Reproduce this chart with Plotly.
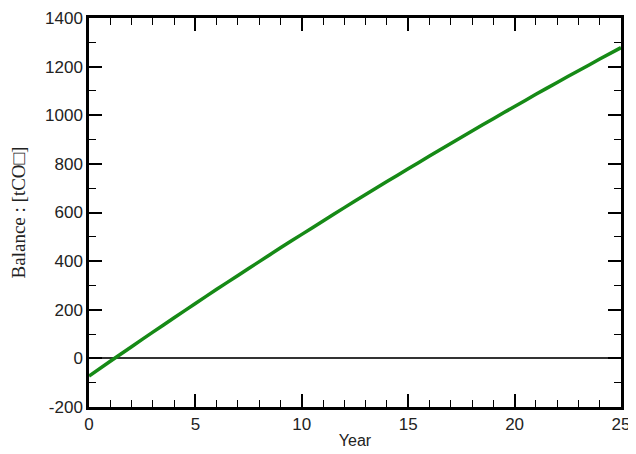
import plotly.graph_objects as go

years = list(range(0, 26))
balance = [-73, -12, 48, 108, 167, 226, 284, 341, 398, 455, 510, 565, 620, 674,
           727, 780, 832, 884, 935, 986, 1036, 1086, 1135, 1183, 1231, 1278]

x_ticks = [0, 5, 10, 15, 20, 25]
y_ticks = [-200, 0, 200, 400, 600, 800, 1000, 1200, 1400]
y_tick_labels = ["-200", "0", "200", "400", "600", "800", "1000", "1200", "1400"]

fig = go.Figure()
fig.add_trace(go.Scatter(x=years, y=balance, mode="lines",
                         line=dict(color="#168a16", width=3.5, shape="spline", smoothing=0.6)))

axis_common = dict(showline=True, linecolor="black", linewidth=2.5, mirror="allticks",
                   ticks="inside", tickcolor="black", tickwidth=1.5, ticklen=13,
                   showgrid=False, automargin=False, ticklabeloverflow="allow",
                   tickfont=dict(family="Liberation Sans, Arial", size=17, color="#222"))

fig.update_xaxes(range=[0, 25], tickvals=x_ticks, zeroline=False,
                 minor=dict(dtick=1, ticks="inside", ticklen=7, tickwidth=1.2, tickcolor="black", showgrid=False),
                 title=dict(text="Year", font=dict(family="Liberation Sans, Arial", size=16, color="#222"), standoff=2),
                 **axis_common)
fig.update_yaxes(range=[-200, 1400], tickvals=y_ticks, ticktext=y_tick_labels,
                 zeroline=True, zerolinecolor="#333", zerolinewidth=1.5,
                 minor=dict(dtick=100, ticks="inside", ticklen=7, tickwidth=1.2, tickcolor="black", showgrid=False),
                 title=dict(text="Balance : [tCO\u25a1]", font=dict(family="Liberation Serif, Times New Roman", size=19, color="#222"), standoff=16),
                 **axis_common)

fig.update_layout(width=636, height=454, margin=dict(l=81, r=23, t=10, b=55),
                  plot_bgcolor="white", paper_bgcolor="white", showlegend=False)

fig.write_html("out.html")
